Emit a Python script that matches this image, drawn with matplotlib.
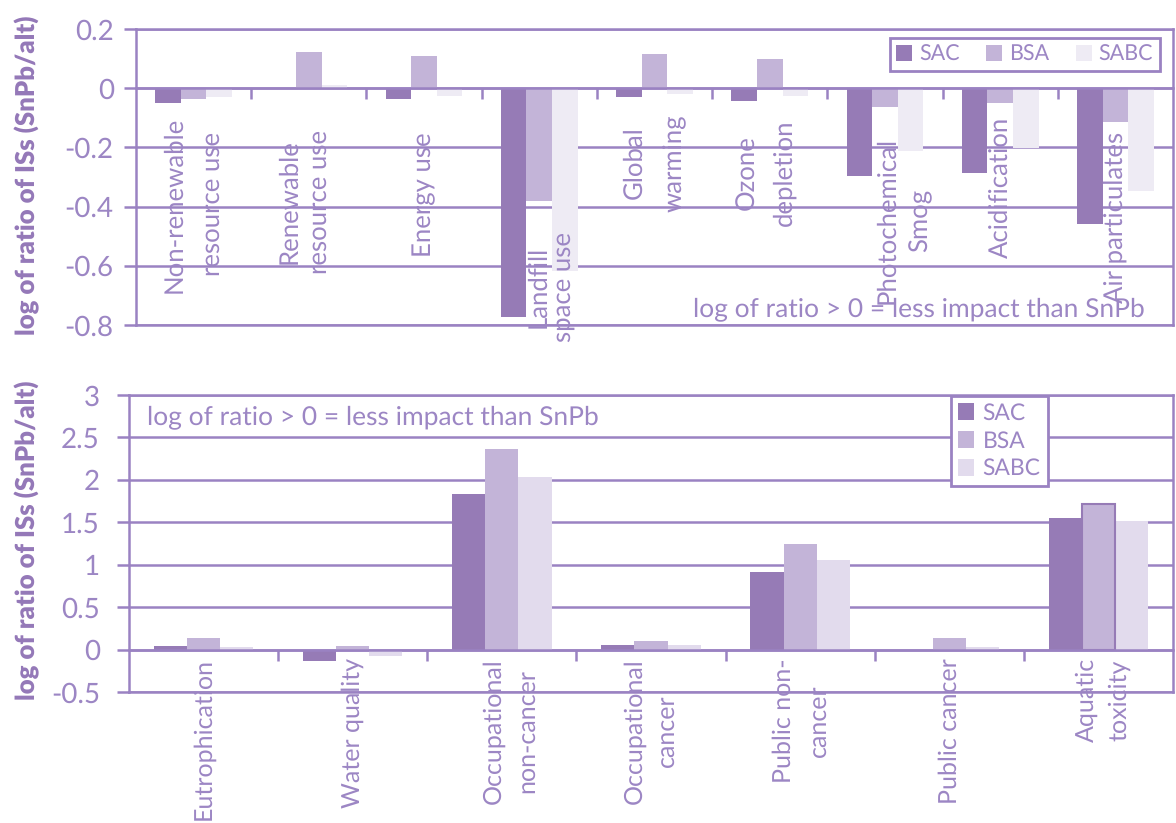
import numpy as np
import matplotlib
matplotlib.use("Agg")
import matplotlib.pyplot as plt
from matplotlib.patches import Patch

# ---------------- data ----------------
top_categories = ["Non-renewable\nresource use", "Renewable\nresource use", "Energy use",
                  "Landfill\nspace use", "Global\nwarming", "Ozone\ndepletion",
                  "Photochemical\nSmog", "Acidification", "Air particulates"]
top_sac = [-0.051, 0.0, -0.037, -0.772, -0.030, -0.042, -0.297, -0.286, -0.459]
top_bsa = [-0.037, 0.123, 0.110, -0.380, 0.115, 0.098, -0.062, -0.051, -0.114]
top_sabc = [-0.030, 0.012, -0.026, -0.619, -0.018, -0.026, -0.212, -0.202, -0.346]
top_yticks = [0.2, 0, -0.2, -0.4, -0.6, -0.8]
top_yticklabels = ["0.2", "0", "-0.2", "-0.4", "-0.6", "-0.8"]

bot_categories = ["Eutrophication", "Water quality", "Occupational\nnon-cancer",
                  "Occupational\ncancer", "Public non-\ncancer", "Public cancer",
                  "Aquatic\ntoxicity"]
bot_sac = [0.043, -0.129, 1.83, 0.055, 0.91, 0.0, 1.548]
bot_bsa = [0.137, 0.043, 2.365, 0.098, 1.246, 0.137, 1.72]
bot_sabc = [0.035, -0.074, 2.03, 0.055, 1.051, 0.035, 1.51]
bot_yticks = [3, 2.5, 2, 1.5, 1, 0.5, 0, -0.5]
bot_yticklabels = ["3", "2.5", "2", "1.5", "1", "0.5", "0", "-0.5"]

series_names = ["SAC", "BSA", "SABC"]
ylabel_text = "log of ratio of ISs (SnPb/alt)"
note_text = "log of ratio > 0 = less impact than SnPb"

# ---------------- layout / style ----------------
# category label placement (top of rotated text, data units), x shift and line spacing
top_label_tops = [-0.095, -0.140, -0.149, -0.485, -0.088, -0.105, -0.163, -0.098, -0.149]
top_label_dx = [0, -0.04, 0, 0.10, 0, -0.035, 0.16, 0, 0]
top_label_ls = [1.78, 1.32, 1.2, 1.05, 1.87, 1.73, 1.5, 1.2, 1.2]
bot_label_top = -0.10
bot_label_ls = [1.2, 1.2, 1.64, 1.6, 1.73, 1.2, 1.55]
bot_label_dx = [0, 0, 0.06, 0, 0.01, 0, 0.03]

C_SAC = "#967bb6"
C_BSA = "#c3b4d8"
C_SABC_TOP = "#eeebf4"
C_SABC_BOT = "#e2dbed"
LINE = "#9a82c2"
TXT = "#9c86c4"
YL = "#9478b8"
FONT = "Lato"
# the BSA bar of the last bottom category is drawn with an outline
bot_bsa_edges = ["none"] * 6 + [C_SAC]

plt.rcParams["font.family"] = [FONT, "DejaVu Sans"]
plt.rcParams["text.hinting"] = "no_hinting"

fig = plt.figure(figsize=(11.76, 8.23), dpi=100)
W, H = 1176, 823


def frac_axes(l, t, r, b):
    return [l / W, 1 - b / H, (r - l) / W, (b - t) / H]


ax1 = fig.add_axes(frac_axes(136, 29, 1173, 325))
ax2 = fig.add_axes(frac_axes(129, 395, 1173, 692))

bw = 0.222
LW = 1.8
LABEL_FS = 18.5
BOT_LABEL_FS = 18
TICK_FS = 20
NOTE_FS = 19


def style_axes(ax, n, ylo, yhi, yticks, yticklabels, tick_pad):
    ax.set_xlim(-0.5, n - 0.5)
    ax.set_ylim(ylo, yhi)
    ax.set_yticks(yticks)
    ax.set_yticklabels(yticklabels)
    ax.yaxis.grid(True, color=LINE, lw=LW)
    ax.set_axisbelow(True)
    for s in ["left", "right", "top"]:
        ax.spines[s].set_color(LINE)
        ax.spines[s].set_linewidth(LW)
    ax.spines["bottom"].set_position(("data", 0))
    ax.spines["bottom"].set_color(LINE)
    ax.spines["bottom"].set_linewidth(LW)
    ax.axhline(ylo, color=LINE, lw=LW, clip_on=False, zorder=0.5)
    ax.tick_params(axis="y", colors=LINE, labelcolor=TXT, length=9, width=LW,
                   labelsize=TICK_FS, pad=tick_pad, direction="out")
    ax.set_xticks([])
    ax.set_xticks(np.arange(n - 1) + 0.5, minor=True)
    ax.tick_params(axis="x", which="minor", colors=LINE, length=8, width=LW,
                   direction="out")


# ---------- top panel ----------
n1 = len(top_categories)
x1 = np.arange(n1)
ax1.bar(x1 - bw, top_sac, bw, color=C_SAC, zorder=2)
ax1.bar(x1, top_bsa, bw, color=C_BSA, zorder=2)
ax1.bar(x1 + bw, top_sabc, bw, color=C_SABC_TOP, zorder=2)
style_axes(ax1, n1, -0.8, 0.2, top_yticks, top_yticklabels, 7)
for i, lab in enumerate(top_categories):
    ax1.text(i + top_label_dx[i], top_label_tops[i], lab, rotation=90, ha="center",
             va="top", multialignment="center", fontsize=LABEL_FS, color=TXT,
             linespacing=top_label_ls[i], zorder=3)
ax1.text(0.973, 0.054, note_text, transform=ax1.transAxes, ha="right",
         va="center", fontsize=NOTE_FS, color=TXT)
h1 = [Patch(facecolor=c, edgecolor="none") for c in (C_SAC, C_BSA, C_SABC_TOP)]
leg1 = ax1.legend(h1, series_names, ncol=3, loc="upper right",
                  bbox_to_anchor=(0.987, 0.97), fontsize=15.5, frameon=True,
                  fancybox=False, edgecolor=LINE, handlelength=0.75,
                  handleheight=0.8, handletextpad=0.3, columnspacing=1.25,
                  borderpad=0.3, labelcolor=TXT, borderaxespad=0)
leg1.get_frame().set_linewidth(2)
leg1.get_frame().set_alpha(1)

# ---------- bottom panel ----------
n2 = len(bot_categories)
x2 = np.arange(n2)
ax2.bar(x2 - bw, bot_sac, bw, color=C_SAC, zorder=2)
ax2.bar(x2, bot_bsa, bw, color=C_BSA, edgecolor=bot_bsa_edges, linewidth=1.5,
        zorder=2.1)
ax2.bar(x2 + bw, bot_sabc, bw, color=C_SABC_BOT, zorder=2)
style_axes(ax2, n2, -0.5, 3, bot_yticks, bot_yticklabels, 12)
for i, lab in enumerate(bot_categories):
    ax2.text(i + bot_label_dx[i], bot_label_top, lab, rotation=90, ha="center",
             va="top", multialignment="center", fontsize=BOT_LABEL_FS, color=TXT,
             linespacing=bot_label_ls[i], zorder=3, clip_on=False)
ax2.text(0.017, 0.926, note_text, transform=ax2.transAxes, ha="left",
         va="center", fontsize=NOTE_FS, color=TXT)
h2 = [Patch(facecolor=c, edgecolor="none") for c in (C_SAC, C_BSA, C_SABC_BOT)]
leg2 = ax2.legend(h2, series_names, ncol=1, loc="upper left",
                  bbox_to_anchor=(0.787, 0.997), fontsize=16.5, frameon=True,
                  fancybox=False, edgecolor=LINE, handlelength=0.7,
                  handleheight=0.75, handletextpad=0.4, labelspacing=0.3,
                  borderpad=0.3, labelcolor=TXT, borderaxespad=0)
leg2.get_frame().set_linewidth(2)
leg2.get_frame().set_alpha(1)

# y labels
fig.text(27 / W, 1 - 175 / H, ylabel_text, rotation=90, ha="center", va="center",
         fontsize=18.5, fontweight="heavy", color=YL)
fig.text(27 / W, 1 - 540 / H, ylabel_text, rotation=90, ha="center", va="center",
         fontsize=18.5, fontweight="heavy", color=YL)

fig.savefig("out.png", dpi=100)
